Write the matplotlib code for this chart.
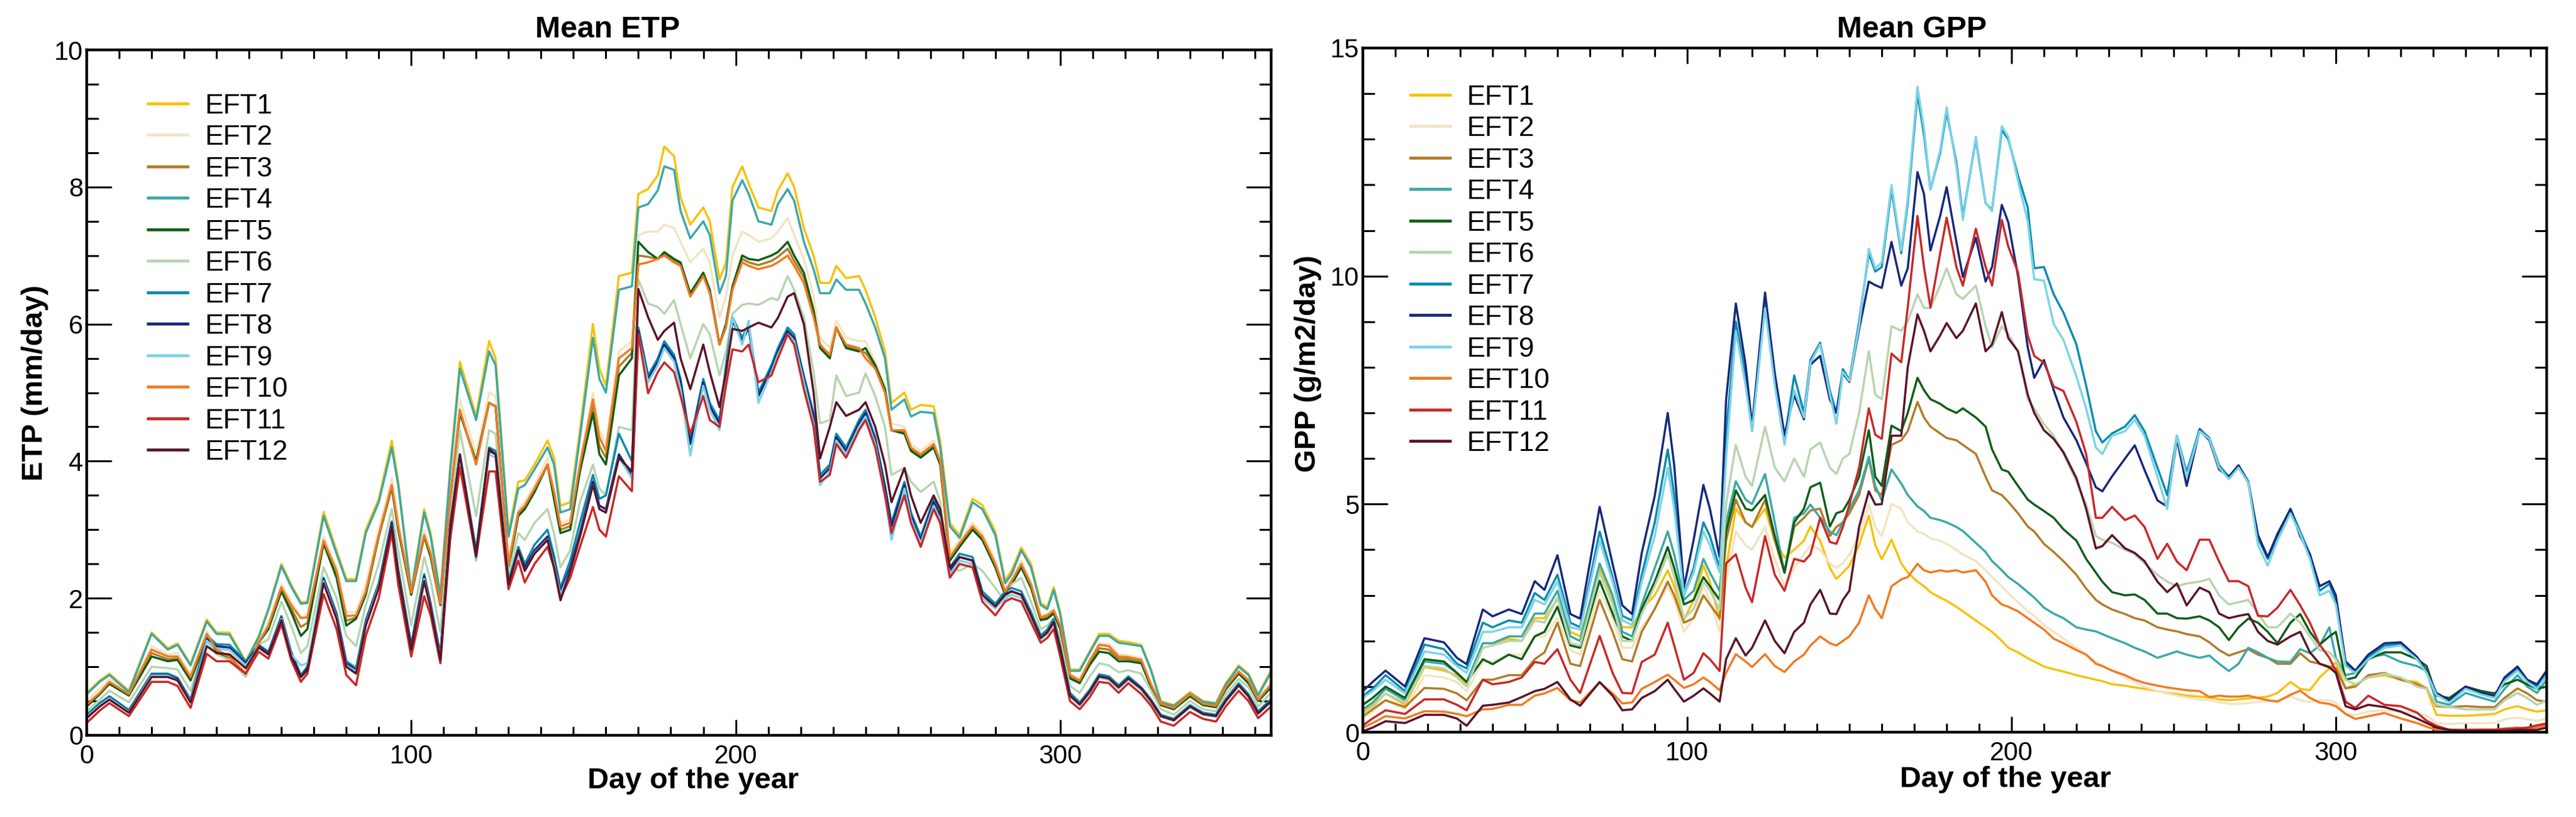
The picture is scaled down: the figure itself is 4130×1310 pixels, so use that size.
import matplotlib
matplotlib.use("Agg")
import matplotlib.pyplot as plt
from matplotlib.ticker import MultipleLocator

plt.rcParams['font.family'] = ['Liberation Sans', 'DejaVu Sans']

# ---------------- data ----------------
eft_names = ['EFT1', 'EFT2', 'EFT3', 'EFT4', 'EFT5', 'EFT6',
             'EFT7', 'EFT8', 'EFT9', 'EFT10', 'EFT11', 'EFT12']
eft_colors = ['#F7C10A', '#F1E4C0', '#B37B27', '#3AA8A8', '#0E5E16', '#B7D4AE',
              '#0A8BB0', '#16287A', '#7CD3E6', '#F07A22', '#C82828', '#5A1428']

etp_days = [0, 4, 7, 13, 20, 25, 28, 32, 37, 40,
            44, 49, 53, 56, 60, 63, 66, 68, 73, 77,
            80, 83, 86, 90, 94, 96, 100, 104, 106, 109,
            112, 115, 120, 124, 126, 130, 133, 135, 138, 142,
            144, 146, 149, 152, 156, 158, 160, 164, 168, 170,
            173, 176, 178, 181, 183, 186, 190, 192, 195, 197,
            199, 202, 204, 207, 211, 213, 216, 218, 221, 224,
            226, 229, 231, 234, 238, 240, 243, 246, 248, 252,
            254, 257, 261, 263, 266, 269, 273, 276, 280, 283,
            285, 288, 291, 294, 296, 298, 300, 303, 306, 309,
            312, 315, 318, 321, 325, 328, 331, 335, 340, 344,
            348, 351, 355, 358, 361, 365]

etp_eft1 = [0.62, 0.80, 0.90, 0.65, 1.50, 1.27, 1.34, 1.04, 1.69, 1.50,
            1.50, 1.08, 1.45, 1.85, 2.50, 2.20, 1.94, 1.95, 3.26, 2.70,
            2.28, 2.28, 3.00, 3.45, 4.30, 3.70, 2.10, 3.30, 2.95, 2.05,
            3.90, 5.45, 4.66, 5.75, 5.50, 2.95, 3.70, 3.72, 3.95, 4.30,
            4.05, 3.35, 3.40, 4.45, 6.00, 5.35, 5.10, 6.70, 6.75, 7.90,
            7.97, 8.17, 8.59, 8.45, 7.85, 7.45, 7.70, 7.50, 6.65, 6.90,
            8.00, 8.30, 8.05, 7.70, 7.65, 7.95, 8.20, 8.00, 7.40, 7.00,
            6.60, 6.60, 6.85, 6.67, 6.70, 6.50, 6.10, 5.60, 4.85, 5.00,
            4.75, 4.82, 4.80, 4.30, 3.10, 2.92, 3.45, 3.36, 2.97, 2.26,
            2.40, 2.74, 2.50, 1.93, 1.87, 2.16, 1.80, 0.96, 0.96, 1.22,
            1.48, 1.48, 1.38, 1.36, 1.32, 0.96, 0.50, 0.44, 0.63, 0.50,
            0.47, 0.76, 1.02, 0.90, 0.60, 0.95]
etp_eft2 = [0.50, 0.68, 0.82, 0.62, 1.30, 1.18, 1.20, 0.90, 1.52, 1.30,
            1.22, 0.95, 1.38, 1.65, 2.20, 1.95, 1.72, 1.75, 2.90, 2.45,
            1.80, 1.80, 2.20, 3.00, 3.75, 3.15, 2.10, 3.00, 2.70, 1.95,
            3.55, 4.90, 4.10, 5.00, 4.95, 2.55, 3.30, 3.40, 3.65, 4.05,
            3.60, 3.10, 3.15, 4.00, 5.00, 4.45, 4.25, 5.60, 5.75, 7.30,
            7.35, 7.35, 7.45, 7.40, 7.20, 6.90, 7.10, 6.90, 6.10, 6.40,
            7.00, 7.35, 7.30, 7.20, 7.25, 7.35, 7.55, 7.30, 6.95, 6.40,
            5.80, 5.65, 6.05, 5.80, 5.75, 5.75, 5.45, 5.10, 4.55, 4.50,
            4.25, 4.15, 4.30, 4.05, 2.65, 2.85, 3.10, 2.95, 2.55, 2.15,
            2.30, 2.55, 2.25, 1.75, 1.78, 1.85, 1.62, 0.90, 0.82, 1.10,
            1.34, 1.33, 1.18, 1.17, 1.12, 0.76, 0.47, 0.41, 0.61, 0.47,
            0.44, 0.72, 0.95, 0.82, 0.54, 0.78]
etp_eft3 = [0.44, 0.61, 0.76, 0.59, 1.20, 1.11, 1.12, 0.82, 1.45, 1.22,
            1.12, 0.89, 1.35, 1.58, 2.13, 1.85, 1.58, 1.64, 2.82, 2.35,
            1.67, 1.72, 2.08, 2.91, 3.63, 3.02, 2.06, 2.91, 2.62, 1.91,
            3.42, 4.72, 3.97, 4.85, 4.80, 2.47, 3.22, 3.32, 3.57, 3.95,
            3.50, 3.00, 3.05, 3.90, 4.80, 4.22, 4.05, 5.38, 5.58, 7.00,
            6.98, 6.95, 7.02, 6.92, 6.88, 6.42, 6.72, 6.48, 5.70, 5.98,
            6.52, 6.95, 6.90, 6.86, 6.92, 6.98, 7.10, 6.92, 6.68, 6.15,
            5.68, 5.52, 5.95, 5.68, 5.62, 5.58, 5.38, 5.02, 4.45, 4.42,
            4.18, 4.08, 4.22, 3.98, 2.58, 2.78, 3.02, 2.88, 2.48, 2.08,
            2.22, 2.48, 2.18, 1.70, 1.72, 1.80, 1.58, 0.85, 0.78, 1.05,
            1.27, 1.25, 1.12, 1.11, 1.08, 0.72, 0.45, 0.39, 0.58, 0.45,
            0.42, 0.68, 0.92, 0.78, 0.51, 0.72]
etp_eft4 = [0.60, 0.78, 0.88, 0.63, 1.48, 1.25, 1.32, 1.02, 1.66, 1.48,
            1.47, 1.06, 1.43, 1.83, 2.47, 2.17, 1.92, 1.93, 3.20, 2.65,
            2.25, 2.25, 2.95, 3.40, 4.20, 3.65, 2.08, 3.25, 2.90, 2.02,
            3.85, 5.35, 4.60, 5.60, 5.40, 2.90, 3.60, 3.65, 3.88, 4.20,
            3.95, 3.25, 3.30, 4.35, 5.80, 5.20, 5.00, 6.50, 6.55, 7.70,
            7.75, 7.95, 8.30, 8.25, 7.65, 7.25, 7.50, 7.30, 6.45, 6.70,
            7.80, 8.10, 7.90, 7.50, 7.45, 7.75, 7.97, 7.80, 7.20, 6.80,
            6.45, 6.45, 6.65, 6.50, 6.50, 6.30, 5.95, 5.50, 4.75, 4.90,
            4.65, 4.72, 4.70, 4.20, 3.05, 2.88, 3.40, 3.30, 2.92, 2.22,
            2.35, 2.70, 2.45, 1.90, 1.84, 2.12, 1.76, 0.94, 0.94, 1.20,
            1.45, 1.45, 1.35, 1.33, 1.30, 0.94, 0.48, 0.43, 0.61, 0.49,
            0.46, 0.74, 1.00, 0.88, 0.58, 0.92]
etp_eft5 = [0.42, 0.60, 0.75, 0.58, 1.15, 1.08, 1.10, 0.80, 1.42, 1.20,
            1.10, 0.88, 1.35, 1.55, 2.10, 1.80, 1.45, 1.55, 2.80, 2.30,
            1.60, 1.70, 2.05, 2.90, 3.62, 3.00, 2.05, 2.90, 2.60, 1.90,
            3.40, 4.70, 4.00, 4.85, 4.80, 2.45, 3.20, 3.30, 3.55, 3.95,
            3.45, 2.95, 3.00, 3.85, 4.70, 4.10, 3.95, 5.25, 5.50, 7.20,
            7.05, 6.95, 7.05, 6.95, 6.90, 6.45, 6.75, 6.50, 5.70, 6.00,
            6.55, 7.00, 6.95, 6.93, 7.00, 7.05, 7.20, 7.00, 6.75, 6.20,
            5.65, 5.50, 5.95, 5.65, 5.60, 5.65, 5.40, 5.05, 4.45, 4.40,
            4.15, 4.05, 4.20, 3.95, 2.55, 2.75, 3.00, 2.85, 2.45, 2.05,
            2.20, 2.45, 2.15, 1.68, 1.70, 1.78, 1.55, 0.83, 0.76, 1.02,
            1.22, 1.20, 1.08, 1.08, 1.05, 0.70, 0.44, 0.38, 0.57, 0.44,
            0.41, 0.67, 0.90, 0.76, 0.50, 0.70]
etp_eft6 = [0.35, 0.52, 0.65, 0.48, 1.00, 0.98, 0.96, 0.65, 1.38, 1.18,
            1.10, 0.85, 1.32, 1.40, 1.95, 1.60, 1.20, 1.30, 2.45, 2.00,
            1.45, 1.30, 1.90, 2.50, 3.30, 2.70, 1.60, 2.60, 2.25, 1.50,
            3.20, 4.45, 3.20, 4.45, 4.40, 2.35, 2.95, 2.85, 3.10, 3.30,
            2.95, 2.45, 2.70, 3.40, 3.95, 3.60, 3.50, 4.50, 4.45, 6.65,
            6.30, 6.25, 6.15, 6.35, 6.00, 5.50, 6.00, 5.85, 5.25, 5.60,
            6.15, 6.28, 6.30, 6.28, 6.38, 6.35, 6.70, 6.50, 6.10, 5.30,
            4.55, 4.60, 5.25, 4.95, 5.00, 5.28, 4.95, 4.50, 3.80, 3.90,
            3.70, 3.55, 3.70, 3.40, 2.45, 2.40, 2.50, 2.40, 2.15, 1.95,
            2.20, 2.30, 1.95, 1.55, 1.60, 1.70, 1.40, 0.72, 0.62, 0.85,
            1.05, 1.02, 0.92, 0.95, 0.90, 0.65, 0.38, 0.30, 0.50, 0.38,
            0.35, 0.60, 0.82, 0.70, 0.42, 0.62]
etp_eft7 = [0.30, 0.47, 0.57, 0.37, 0.90, 0.90, 0.84, 0.52, 1.45, 1.33,
            1.32, 1.08, 1.32, 1.22, 1.74, 1.22, 0.88, 1.00, 2.30, 1.78,
            1.08, 0.98, 1.68, 2.22, 3.12, 2.42, 1.32, 2.35, 1.92, 1.18,
            3.08, 4.10, 2.70, 4.20, 4.15, 2.25, 2.75, 2.50, 2.78, 3.00,
            2.62, 2.15, 2.55, 3.10, 3.80, 3.45, 3.50, 4.40, 4.00, 5.95,
            5.25, 5.50, 5.75, 5.55, 5.20, 4.30, 5.20, 4.85, 4.60, 5.40,
            6.10, 5.80, 6.00, 5.00, 5.40, 5.65, 5.95, 5.85, 5.25, 4.70,
            3.80, 3.95, 4.40, 4.20, 4.60, 4.75, 4.35, 3.65, 3.10, 3.70,
            3.25, 2.90, 3.45, 3.25, 2.45, 2.65, 2.60, 2.10, 1.92, 2.10,
            2.15, 2.10, 1.80, 1.46, 1.54, 1.70, 1.30, 0.62, 0.48, 0.66,
            0.89, 0.86, 0.73, 0.86, 0.70, 0.52, 0.30, 0.24, 0.44, 0.33,
            0.30, 0.53, 0.76, 0.60, 0.35, 0.53]
etp_eft8 = [0.28, 0.45, 0.55, 0.35, 0.88, 0.88, 0.82, 0.50, 1.40, 1.30,
            1.28, 1.05, 1.30, 1.20, 1.72, 1.20, 0.85, 0.98, 2.28, 1.75,
            1.05, 0.95, 1.65, 2.20, 3.10, 2.40, 1.30, 2.32, 1.90, 1.15,
            3.05, 4.05, 2.65, 4.15, 4.10, 2.20, 2.70, 2.45, 2.70, 2.90,
            2.55, 2.10, 2.45, 2.95, 3.70, 3.35, 3.30, 4.10, 3.80, 5.90,
            5.20, 5.45, 5.70, 5.50, 5.15, 4.25, 5.15, 4.80, 4.55, 5.30,
            6.05, 5.75, 5.95, 4.95, 5.35, 5.60, 5.90, 5.80, 5.20, 4.65,
            3.75, 3.90, 4.35, 4.15, 4.55, 4.70, 4.30, 3.60, 3.05, 3.65,
            3.20, 2.85, 3.40, 3.20, 2.40, 2.60, 2.55, 2.05, 1.88, 2.05,
            2.10, 2.05, 1.75, 1.42, 1.50, 1.65, 1.25, 0.58, 0.45, 0.63,
            0.86, 0.83, 0.70, 0.83, 0.68, 0.50, 0.28, 0.22, 0.42, 0.31,
            0.28, 0.50, 0.73, 0.57, 0.32, 0.50]
etp_eft9 = [0.27, 0.44, 0.54, 0.34, 0.87, 0.87, 0.80, 0.49, 1.38, 1.26,
            1.25, 1.02, 1.28, 1.18, 1.70, 1.18, 1.02, 1.05, 2.25, 1.72,
            1.02, 0.93, 1.62, 2.18, 3.05, 2.36, 1.25, 2.28, 1.86, 1.12,
            3.00, 4.00, 2.55, 4.10, 4.05, 2.15, 2.65, 2.40, 2.66, 2.86,
            2.50, 2.05, 2.40, 2.90, 3.65, 3.30, 3.25, 4.05, 3.75, 5.85,
            5.15, 5.40, 5.65, 5.45, 5.05, 4.08, 5.10, 4.75, 4.45, 5.25,
            6.10, 5.70, 6.05, 4.85, 5.30, 5.55, 5.85, 5.75, 5.15, 4.55,
            3.65, 3.85, 4.30, 4.10, 4.50, 4.65, 4.25, 3.50, 2.85, 3.60,
            3.15, 2.80, 3.35, 3.15, 2.35, 2.55, 2.50, 2.00, 1.85, 2.00,
            2.05, 2.00, 1.70, 1.40, 1.48, 1.62, 1.22, 0.56, 0.44, 0.61,
            0.84, 0.81, 0.68, 0.81, 0.66, 0.48, 0.27, 0.21, 0.41, 0.30,
            0.27, 0.49, 0.72, 0.56, 0.31, 0.49]
etp_eft10 = [0.45, 0.62, 0.78, 0.60, 1.25, 1.15, 1.15, 0.85, 1.48, 1.25,
             1.15, 0.90, 1.35, 1.60, 2.16, 1.90, 1.71, 1.72, 2.84, 2.40,
             1.74, 1.75, 2.10, 2.92, 3.65, 3.05, 2.08, 2.92, 2.65, 1.92,
             3.45, 4.75, 3.95, 4.85, 4.80, 2.50, 3.25, 3.35, 3.60, 3.95,
             3.55, 3.05, 3.10, 3.95, 4.90, 4.35, 4.15, 5.50, 5.65, 6.87,
             6.90, 6.95, 7.00, 6.90, 6.85, 6.40, 6.70, 6.45, 5.70, 5.95,
             6.50, 6.90, 6.85, 6.80, 6.85, 6.90, 7.00, 6.85, 6.60, 6.10,
             5.70, 5.55, 5.95, 5.70, 5.65, 5.50, 5.35, 5.00, 4.45, 4.45,
             4.20, 4.10, 4.25, 4.00, 2.60, 2.80, 3.05, 2.90, 2.50, 2.10,
             2.25, 2.50, 2.20, 1.72, 1.75, 1.82, 1.60, 0.88, 0.80, 1.08,
             1.32, 1.30, 1.15, 1.14, 1.10, 0.74, 0.46, 0.40, 0.60, 0.46,
             0.43, 0.70, 0.93, 0.80, 0.52, 0.74]
etp_eft11 = [0.18, 0.36, 0.47, 0.28, 0.78, 0.78, 0.72, 0.40, 1.19, 1.08,
             1.08, 0.90, 1.22, 1.12, 1.62, 1.10, 0.78, 0.90, 2.06, 1.55,
             0.88, 0.73, 1.45, 2.00, 2.95, 2.20, 1.15, 2.03, 1.75, 1.05,
             2.85, 3.91, 2.60, 3.85, 3.85, 2.13, 2.55, 2.23, 2.50, 2.75,
             2.45, 2.00, 2.30, 2.75, 3.33, 3.00, 2.90, 3.78, 3.56, 5.86,
             4.99, 5.30, 5.44, 5.30, 4.95, 4.40, 4.95, 4.60, 4.50, 5.10,
             5.63, 5.60, 5.70, 5.15, 5.25, 5.50, 5.85, 5.70, 5.05, 4.50,
             3.70, 3.80, 4.25, 4.05, 4.45, 4.60, 4.20, 3.50, 2.95, 3.50,
             3.10, 2.75, 3.30, 3.10, 2.30, 2.50, 2.45, 1.95, 1.75, 1.95,
             2.00, 1.95, 1.65, 1.35, 1.42, 1.55, 1.15, 0.50, 0.38, 0.55,
             0.78, 0.76, 0.62, 0.76, 0.60, 0.43, 0.20, 0.14, 0.34, 0.24,
             0.20, 0.42, 0.65, 0.50, 0.25, 0.42]
etp_eft12 = [0.25, 0.42, 0.52, 0.33, 0.85, 0.85, 0.80, 0.48, 1.30, 1.20,
             1.18, 0.98, 1.28, 1.18, 1.68, 1.15, 0.85, 0.95, 2.22, 1.70,
             1.00, 0.90, 1.60, 2.15, 3.05, 2.35, 1.25, 2.25, 1.85, 1.10,
             3.00, 4.10, 2.62, 4.18, 4.10, 2.20, 2.70, 2.40, 2.65, 2.85,
             2.45, 1.97, 2.40, 2.90, 3.65, 3.30, 3.25, 4.05, 3.85, 6.51,
             6.10, 5.77, 5.90, 6.02, 5.50, 5.05, 5.70, 5.30, 4.79, 5.30,
             5.93, 5.90, 5.95, 6.02, 5.95, 6.09, 6.40, 6.45, 6.00, 5.00,
             4.04, 4.50, 4.86, 4.66, 4.75, 4.86, 4.50, 3.95, 3.40, 3.90,
             3.50, 3.10, 3.50, 3.30, 2.45, 2.60, 2.55, 2.05, 1.88, 2.05,
             2.10, 2.05, 1.75, 1.42, 1.50, 1.65, 1.25, 0.58, 0.45, 0.63,
             0.86, 0.83, 0.70, 0.83, 0.68, 0.50, 0.28, 0.22, 0.42, 0.31,
             0.28, 0.50, 0.73, 0.57, 0.32, 0.50]

gpp_days = [0, 3, 7, 13, 19, 25, 29, 32, 37, 40,
            45, 49, 53, 56, 60, 64, 67, 73, 77, 80,
            83, 86, 90, 94, 96, 99, 102, 105, 107, 110,
            112, 115, 118, 120, 124, 127, 130, 133, 136, 138,
            141, 144, 146, 148, 150, 153, 156, 158, 160, 163,
            166, 168, 171, 173, 175, 178, 180, 183, 185, 189,
            192, 194, 197, 199, 202, 205, 207, 210, 213, 216,
            220, 223, 226, 228, 231, 235, 238, 241, 245, 248,
            251, 254, 258, 261, 264, 267, 270, 273, 276, 279,
            282, 286, 289, 292, 295, 298, 300, 303, 306, 310,
            315, 320, 325, 328, 331, 335, 340, 345, 349, 352,
            356, 359, 362, 365]

gpp_eft1 = [0.45, 0.60, 0.85, 0.60, 1.43, 1.35, 1.25, 1.05, 1.95, 1.95,
            2.05, 2.00, 2.50, 2.50, 2.92, 2.20, 2.10, 3.60, 2.90, 2.30,
            2.30, 2.70, 3.00, 3.55, 3.20, 2.46, 2.90, 3.66, 3.30, 2.46,
            3.60, 4.90, 4.60, 4.50, 4.90, 4.20, 3.83, 4.00, 4.20, 4.51,
            4.20, 3.60, 3.36, 3.50, 3.65, 4.10, 4.75, 4.10, 3.79, 4.22,
            3.70, 3.50, 3.30, 3.20, 3.07, 2.95, 2.88, 2.75, 2.65, 2.45,
            2.30, 2.20, 2.00, 1.85, 1.75, 1.62, 1.55, 1.44, 1.38, 1.33,
            1.25, 1.20, 1.15, 1.12, 1.05, 1.02, 0.98, 0.95, 0.90, 0.86,
            0.84, 0.80, 0.78, 0.76, 0.72, 0.70, 0.72, 0.74, 0.76, 0.78,
            0.86, 1.10, 0.95, 0.92, 1.20, 1.40, 1.53, 0.96, 1.05, 1.20,
            1.25, 1.15, 1.10, 0.95, 0.38, 0.36, 0.36, 0.38, 0.40, 0.50,
            0.57, 0.50, 0.45, 0.48]
gpp_eft2 = [0.30, 0.45, 0.70, 0.50, 1.25, 1.20, 1.10, 0.90, 1.55, 1.55,
            1.70, 1.70, 2.10, 2.10, 2.50, 1.80, 1.70, 3.10, 2.50, 1.85,
            1.85, 2.30, 2.70, 3.20, 2.90, 2.20, 2.50, 3.20, 2.90, 2.20,
            3.30, 4.40, 4.10, 4.00, 4.50, 3.80, 3.20, 3.60, 3.90, 4.10,
            4.00, 3.70, 3.60, 3.70, 3.90, 4.30, 5.00, 4.50, 4.30, 5.00,
            4.90, 4.60, 4.40, 4.35, 4.25, 4.20, 4.13, 4.00, 3.90, 3.75,
            3.55, 3.40, 3.20, 3.05, 2.85, 2.65, 2.55, 2.35, 2.20, 2.05,
            1.85, 1.70, 1.55, 1.45, 1.35, 1.20, 1.10, 1.00, 0.90, 0.85,
            0.80, 0.76, 0.72, 0.70, 0.66, 0.62, 0.62, 0.64, 0.66, 0.68,
            0.70, 0.78, 0.70, 0.66, 0.70, 0.70, 0.65, 0.40, 0.38, 0.45,
            0.48, 0.45, 0.42, 0.36, 0.20, 0.18, 0.20, 0.20, 0.20, 0.28,
            0.32, 0.28, 0.25, 0.30]
gpp_eft3 = [0.35, 0.50, 0.70, 0.55, 0.97, 0.95, 0.85, 0.70, 1.15, 1.15,
            1.25, 1.25, 1.60, 1.75, 2.40, 1.50, 1.45, 2.90, 2.20, 1.60,
            1.55, 2.20, 2.70, 3.30, 3.00, 2.40, 2.50, 3.00, 2.80, 2.50,
            4.20, 5.10, 4.60, 4.50, 5.09, 4.20, 3.50, 4.50, 4.70, 4.86,
            4.90, 4.30, 4.50, 4.60, 4.80, 5.20, 6.00, 5.30, 5.20, 6.30,
            6.40, 6.60, 7.24, 6.90, 6.70, 6.55, 6.45, 6.40, 6.30, 6.10,
            5.60, 5.30, 5.20, 5.05, 4.80, 4.51, 4.40, 4.13, 3.95, 3.75,
            3.45, 3.15, 2.90, 2.80, 2.69, 2.59, 2.50, 2.45, 2.30, 2.25,
            2.21, 2.15, 2.10, 1.97, 1.80, 1.68, 1.75, 1.82, 1.70, 1.63,
            1.50, 1.50, 1.73, 1.55, 1.50, 1.44, 1.40, 0.96, 1.00, 1.25,
            1.30, 1.15, 1.05, 0.96, 0.57, 0.55, 0.57, 0.55, 0.55, 0.75,
            0.96, 0.85, 0.70, 0.67]
gpp_eft4 = [0.50, 0.65, 0.95, 0.70, 1.55, 1.50, 1.30, 1.10, 1.95, 1.95,
            2.10, 2.10, 2.60, 2.60, 3.10, 2.10, 2.00, 3.70, 3.00, 2.20,
            2.10, 2.80, 3.60, 4.40, 3.90, 2.90, 3.10, 3.80, 3.50, 3.10,
            4.60, 5.50, 5.10, 5.00, 5.66, 4.60, 3.49, 4.70, 4.80, 4.99,
            4.70, 4.40, 4.32, 4.60, 4.89, 5.30, 6.04, 5.40, 5.08, 5.76,
            5.45, 5.20, 4.95, 4.85, 4.70, 4.65, 4.60, 4.50, 4.41, 4.15,
            3.95, 3.75, 3.55, 3.40, 3.25, 3.07, 2.95, 2.73, 2.60, 2.50,
            2.30, 2.25, 2.21, 2.15, 2.06, 1.95, 1.85, 1.77, 1.63, 1.70,
            1.77, 1.70, 1.63, 1.68, 1.50, 1.34, 1.50, 1.85, 1.75, 1.63,
            1.55, 1.54, 1.82, 1.73, 1.90, 2.30, 1.63, 1.25, 1.30, 1.65,
            1.70, 1.54, 1.45, 1.34, 0.67, 0.60, 0.86, 0.75, 0.67, 0.95,
            1.25, 1.00, 0.86, 1.15]
gpp_eft5 = [0.60, 0.75, 1.00, 0.75, 1.60, 1.55, 1.30, 1.10, 1.60, 1.49,
            1.70, 1.60, 2.10, 2.20, 2.75, 1.90, 1.85, 3.32, 2.60, 2.10,
            2.00, 2.70, 3.30, 4.06, 3.60, 2.80, 2.90, 3.40, 3.20, 2.90,
            4.40, 5.30, 4.90, 4.86, 5.20, 4.30, 3.50, 4.60, 4.90, 5.37,
            5.47, 4.51, 4.80, 4.85, 5.09, 5.60, 6.62, 5.60, 5.40, 6.72,
            6.60, 7.00, 7.77, 7.50, 7.30, 7.20, 7.10, 7.00, 7.10, 6.90,
            6.70, 6.20, 5.76, 5.71, 5.40, 5.10, 4.99, 4.85, 4.70, 4.45,
            4.20, 3.80, 3.50, 3.30, 3.07, 3.00, 3.02, 2.90, 2.60, 2.60,
            2.50, 2.49, 2.54, 2.45, 2.30, 2.02, 2.30, 2.49, 2.40, 2.20,
            1.95, 2.40, 2.59, 2.20, 1.92, 2.10, 2.20, 1.15, 1.20, 1.60,
            1.75, 1.75, 1.60, 1.45, 0.80, 0.75, 1.00, 0.90, 0.85, 1.05,
            1.15, 1.05, 0.95, 1.00]
gpp_eft6 = [0.40, 0.55, 0.85, 0.65, 1.45, 1.40, 1.20, 1.00, 1.85, 1.90,
            2.00, 2.00, 2.45, 2.40, 2.95, 1.95, 1.90, 3.50, 2.80, 2.00,
            2.00, 2.60, 3.20, 3.90, 3.40, 2.50, 2.70, 3.30, 3.10, 2.70,
            5.00, 6.30, 5.60, 5.40, 6.70, 5.80, 5.50, 6.00, 5.60, 6.20,
            6.35, 5.80, 5.66, 6.00, 6.10, 7.00, 8.35, 7.40, 7.30, 8.90,
            8.80, 9.00, 9.60, 9.30, 9.30, 9.80, 10.17, 9.60, 9.50, 9.79,
            8.90, 8.44, 8.90, 8.73, 8.35, 7.30, 7.10, 6.75, 6.50, 6.10,
            5.50, 5.00, 4.30, 4.22, 4.15, 4.00, 3.90, 3.70, 3.45, 3.30,
            3.20, 3.26, 3.30, 3.36, 3.00, 2.80, 2.85, 2.90, 2.60, 2.30,
            2.30, 2.60, 2.40, 2.10, 1.80, 1.75, 1.60, 1.15, 1.05, 1.20,
            1.28, 1.20, 1.00, 0.95, 0.60, 0.55, 0.50, 0.50, 0.50, 0.70,
            0.86, 0.75, 0.60, 0.70]
gpp_eft7 = [0.80, 0.95, 1.25, 0.90, 1.92, 1.82, 1.50, 1.40, 2.40, 2.30,
            2.45, 2.40, 3.05, 2.90, 3.45, 2.40, 2.30, 4.40, 3.40, 2.55,
            2.45, 3.45, 4.60, 6.20, 5.20, 3.00, 3.60, 4.60, 4.30, 3.60,
            6.50, 9.00, 7.80, 6.60, 9.40, 7.70, 6.40, 7.82, 7.00, 8.16,
            8.54, 7.48, 7.00, 7.96, 7.72, 9.00, 10.50, 10.10, 10.20, 11.90,
            10.50, 11.60, 14.00, 13.10, 11.90, 12.70, 13.60, 12.50, 11.30, 13.00,
            11.60, 11.45, 13.20, 13.00, 12.20, 11.50, 10.17, 10.20, 9.60, 9.20,
            8.50, 7.60, 6.60, 6.35, 6.55, 6.70, 6.95, 6.60, 5.80, 5.20,
            6.50, 5.70, 6.65, 6.45, 5.85, 5.60, 5.85, 5.50, 4.25, 3.80,
            4.30, 4.90, 4.40, 3.90, 3.10, 3.25, 2.90, 1.50, 1.32, 1.65,
            1.90, 1.93, 1.62, 1.32, 0.84, 0.67, 0.97, 0.84, 0.77, 1.15,
            1.40, 1.12, 1.00, 1.30]
gpp_eft8 = [0.90, 1.10, 1.35, 1.00, 2.06, 1.97, 1.63, 1.49, 2.69, 2.54,
            2.69, 2.59, 3.31, 3.12, 3.88, 2.59, 2.49, 4.94, 3.69, 2.78,
            2.59, 3.93, 5.18, 7.00, 5.85, 3.17, 4.22, 5.42, 4.90, 3.84,
            7.29, 9.40, 8.06, 6.72, 9.64, 7.87, 6.52, 7.39, 6.86, 8.06,
            8.25, 7.29, 7.00, 7.87, 7.68, 8.83, 9.88, 9.80, 9.74, 10.75,
            9.79, 10.17, 12.28, 11.80, 10.56, 11.32, 11.95, 10.75, 9.98, 10.84,
            9.88, 10.20, 11.56, 11.18, 10.00, 8.44, 7.77, 8.16, 7.50, 6.90,
            6.40, 5.90, 5.37, 5.28, 5.61, 6.00, 6.29, 5.75, 5.08, 4.95,
            6.43, 5.40, 6.62, 6.40, 5.76, 5.60, 5.85, 5.47, 4.32, 3.84,
            4.35, 4.89, 4.30, 3.90, 3.20, 3.31, 3.00, 1.55, 1.35, 1.70,
            1.95, 1.97, 1.65, 1.34, 0.86, 0.70, 1.00, 0.86, 0.80, 1.20,
            1.44, 1.15, 1.05, 1.35]
gpp_eft9 = [0.75, 0.90, 1.15, 0.85, 1.77, 1.70, 1.45, 1.30, 2.20, 2.20,
            2.30, 2.30, 2.90, 2.80, 3.30, 2.30, 2.25, 4.20, 3.30, 2.45,
            2.35, 3.30, 4.30, 5.80, 4.90, 3.00, 3.50, 4.40, 4.10, 3.50,
            6.00, 8.80, 7.60, 6.60, 9.30, 7.60, 6.30, 7.50, 6.90, 8.10,
            8.50, 7.40, 6.76, 7.90, 7.70, 8.90, 10.60, 10.17, 10.30, 12.00,
            10.56, 11.70, 14.15, 13.24, 11.90, 12.76, 13.70, 12.40, 11.23, 13.05,
            11.61, 11.42, 13.29, 13.05, 12.09, 11.20, 9.93, 9.90, 8.95, 8.60,
            7.80, 7.10, 6.24, 6.10, 6.50, 6.60, 6.85, 6.50, 5.60, 4.89,
            6.50, 5.60, 6.60, 6.43, 5.80, 5.55, 5.80, 5.47, 4.10, 3.65,
            4.20, 4.80, 4.35, 3.80, 3.00, 3.10, 2.80, 1.45, 1.30, 1.60,
            1.85, 1.90, 1.60, 1.30, 0.82, 0.65, 0.95, 0.82, 0.75, 1.12,
            1.35, 1.10, 0.95, 1.25]
gpp_eft10 = [0.10, 0.20, 0.35, 0.30, 0.46, 0.45, 0.40, 0.35, 0.50, 0.51,
             0.60, 0.60, 0.80, 0.85, 0.97, 0.70, 0.65, 1.09, 0.85, 0.63,
             0.65, 0.95, 1.10, 1.26, 1.15, 0.97, 1.05, 1.20, 1.10, 0.92,
             1.30, 1.71, 1.55, 1.43, 1.71, 1.45, 1.32, 1.55, 1.70, 1.90,
             2.10, 1.95, 1.90, 2.00, 2.10, 2.40, 3.00, 2.70, 2.50, 3.20,
             3.35, 3.40, 3.69, 3.55, 3.50, 3.55, 3.52, 3.55, 3.50, 3.55,
             3.30, 3.00, 2.80, 2.75, 2.65, 2.50, 2.40, 2.25, 2.05, 1.95,
             1.80, 1.70, 1.50, 1.45, 1.35, 1.25, 1.15, 1.08, 1.02, 0.98,
             0.95, 0.92, 0.90, 0.77, 0.80, 0.78, 0.78, 0.80, 0.75, 0.70,
             0.67, 0.82, 0.91, 0.75, 0.65, 0.62, 0.57, 0.40, 0.29, 0.35,
             0.42, 0.30, 0.20, 0.12, 0.05, 0.05, 0.05, 0.06, 0.06, 0.08,
             0.10, 0.08, 0.10, 0.15]
gpp_eft11 = [0.15, 0.30, 0.48, 0.40, 0.72, 0.72, 0.60, 0.48, 1.15, 1.05,
             1.10, 1.20, 1.54, 1.50, 1.82, 1.15, 0.86, 2.11, 1.30, 0.86,
             0.85, 1.54, 1.70, 2.40, 1.90, 1.15, 1.30, 1.73, 1.60, 1.34,
             3.70, 3.90, 3.17, 2.85, 4.30, 3.45, 3.10, 3.80, 3.74, 3.90,
             4.70, 4.17, 4.13, 4.50, 4.99, 5.80, 7.10, 6.52, 6.43, 8.30,
             8.11, 9.31, 11.32, 10.20, 9.31, 10.50, 11.28, 10.20, 9.79, 11.04,
             10.20, 9.79, 11.23, 10.65, 10.08, 8.70, 8.25, 8.10, 7.58, 7.48,
             6.80, 6.10, 4.70, 4.70, 4.94, 4.65, 4.75, 4.50, 3.80, 4.13,
             3.74, 3.55, 4.22, 4.22, 3.74, 3.31, 3.31, 3.20, 2.55, 2.54,
             2.73, 3.12, 2.78, 2.40, 1.92, 1.63, 1.34, 0.67, 0.53, 0.80,
             0.60, 0.57, 0.43, 0.25, 0.14, 0.05, 0.05, 0.05, 0.05, 0.07,
             0.08, 0.10, 0.15, 0.19]
gpp_eft12 = [0.02, 0.10, 0.24, 0.20, 0.38, 0.38, 0.30, 0.14, 0.58, 0.60,
             0.65, 0.77, 0.90, 0.95, 1.10, 0.72, 0.58, 1.10, 0.80, 0.48,
             0.50, 0.75, 0.90, 1.15, 0.95, 0.67, 0.80, 0.96, 0.85, 0.67,
             1.60, 2.06, 1.68, 1.85, 2.45, 2.00, 1.73, 2.20, 2.40, 2.80,
             3.12, 2.60, 2.59, 2.90, 3.10, 4.50, 5.28, 4.99, 5.00, 6.50,
             6.50, 8.00, 9.16, 8.80, 8.35, 8.70, 8.97, 8.64, 8.80, 9.40,
             8.35, 8.50, 9.21, 8.64, 8.35, 7.40, 7.00, 6.62, 6.43, 6.14,
             5.57, 4.90, 4.03, 4.08, 4.32, 4.03, 3.93, 3.75, 3.30, 3.07,
             3.26, 2.78, 3.17, 3.07, 2.60, 2.50, 2.55, 2.59, 2.20, 2.00,
             1.92, 2.10, 2.20, 1.75, 1.50, 1.42, 1.30, 0.57, 0.50, 0.60,
             0.55, 0.45, 0.30, 0.20, 0.10, 0.05, 0.03, 0.03, 0.03, 0.03,
             0.05, 0.05, 0.05, 0.10]

etp_series = [etp_eft1, etp_eft2, etp_eft3, etp_eft4, etp_eft5, etp_eft6,
              etp_eft7, etp_eft8, etp_eft9, etp_eft10, etp_eft11, etp_eft12]
gpp_series = [gpp_eft1, gpp_eft2, gpp_eft3, gpp_eft4, gpp_eft5, gpp_eft6,
              gpp_eft7, gpp_eft8, gpp_eft9, gpp_eft10, gpp_eft11, gpp_eft12]

x_ticks = [0, 100, 200, 300]
etp_yticks = [0, 2, 4, 6, 8, 10]
gpp_yticks = [0, 5, 10, 15]

# ---------------- figure ----------------
W, H = 4130, 1310
fig = plt.figure(figsize=(W / 100, H / 100), dpi=100)


def px_axes(l, t, r, b):
    return fig.add_axes([l / W, 1 - b / H, (r - l) / W, (b - t) / H])


axL = px_axes(139, 80, 2038, 1179)
axR = px_axes(2185, 77, 4083, 1174)


def style(ax, ymax, yminor, yticks):
    ax.set_xlim(0, 365)
    ax.set_ylim(0, ymax)
    ax.set_xticks(x_ticks)
    ax.set_yticks(yticks)
    ax.xaxis.set_minor_locator(MultipleLocator(10))
    ax.yaxis.set_minor_locator(MultipleLocator(yminor))
    for s in ax.spines.values():
        s.set_linewidth(3.2)
    ax.tick_params(which='both', direction='in', top=True, right=True, width=2.2, colors='black')
    ax.tick_params(axis='x', which='major', length=18, pad=10, labelsize=30)
    ax.tick_params(axis='x', which='minor', length=10)
    ax.tick_params(axis='y', which='major', length=29, pad=4, labelsize=30)
    ax.tick_params(axis='y', which='minor', length=14)


style(axL, 10, 0.5, etp_yticks)
style(axR, 15, 1, gpp_yticks)

for vals, c in zip(etp_series, eft_colors):
    axL.plot(etp_days, vals, color=c, lw=2.5)
for vals, c in zip(gpp_series, eft_colors):
    axR.plot(gpp_days, vals, color=c, lw=2.5)


def legend(ax, ax_top, ax_h, x0, x1, xt, y_first, step):
    for i, (name, c) in enumerate(zip(eft_names, eft_colors)):
        yc = y_first + i * step
        fy = 1 - (yc - ax_top) / ax_h
        ax.plot([x0, x1], [fy, fy], transform=ax.transAxes, color=c, lw=3.4,
                solid_capstyle='butt', clip_on=False)
        ax.text(xt, fy - 16 / ax_h, name, transform=ax.transAxes, fontsize=32,
                ha='left', va='baseline')


legend(axL, 80, 1099, 0.0506, 0.0861, 0.0995, 166, 50.45)
legend(axR, 77, 1097, 0.0390, 0.0748, 0.0875, 152, 50.46)

# titles
axL.text(0.44, 1.0182, 'Mean ETP', transform=axL.transAxes, fontsize=35,
         fontweight='bold', ha='center', va='baseline')
axR.text(0.4636, 1.0155, 'Mean GPP', transform=axR.transAxes, fontsize=35,
         fontweight='bold', ha='center', va='baseline')

# axis labels
axL.set_xlabel('Day of the year', fontsize=34, fontweight='bold', va='baseline')
axL.xaxis.set_label_coords(0.512, -0.0773)
axR.set_xlabel('Day of the year', fontsize=34, fontweight='bold', va='baseline')
axR.xaxis.set_label_coords(0.543, -0.080)
axL.set_ylabel('ETP (mm/day)', fontsize=34, fontweight='bold', va='center')
axL.yaxis.set_label_coords(-0.0437, 0.514)
axR.set_ylabel('GPP (g/m2/day)', fontsize=34, fontweight='bold', va='center')
axR.yaxis.set_label_coords(-0.0464, 0.539)

fig.savefig('out.png', dpi=100)
